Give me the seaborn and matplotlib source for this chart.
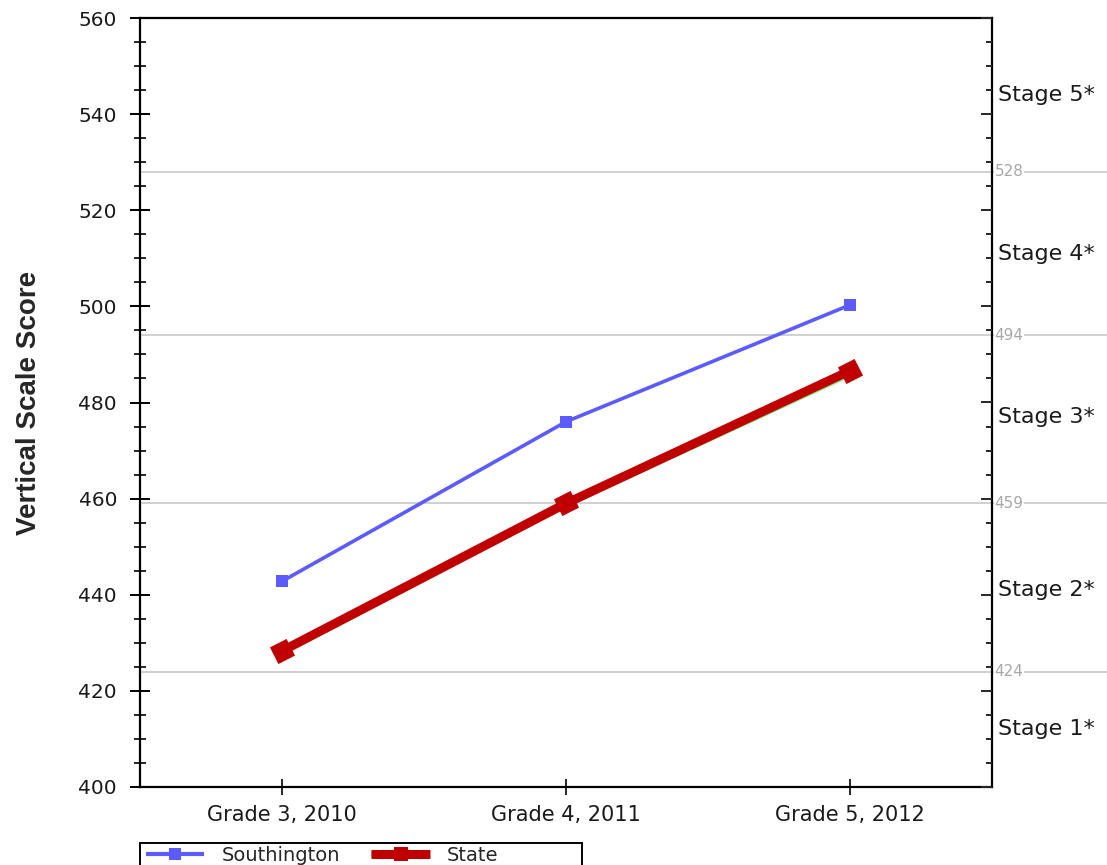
import pandas as pd
import matplotlib.pyplot as plt
import seaborn as sns
from matplotlib.ticker import MultipleLocator
from matplotlib.lines import Line2D
from matplotlib.patches import Rectangle

sns.set_theme(style="ticks")
plt.rcParams['font.family'] = ['DejaVu Sans']

grades = ['Grade 3, 2010', 'Grade 4, 2011', 'Grade 5, 2012']
southington = [442.8, 476.0, 500.3]
state = [428.3, 459.0, 486.6]
state_under = [427.8, 458.6, 485.8]

cut_scores = [424, 459, 494, 528]
stage_labels = ['Stage 1*', 'Stage 2*', 'Stage 3*', 'Stage 4*', 'Stage 5*']
stage_y = [412, 441, 477, 511, 544]

df = pd.DataFrame({'grade': grades * 3,
                   'score': southington + state_under + state,
                   'series': ['Southington'] * 3 + ['State_under'] * 3 + ['State'] * 3})

BLUE = '#5b5bff'
RED = '#c00000'
GREEN = '#7cf08a'

fig = plt.figure(figsize=(11.07, 8.65), dpi=100)
ax = fig.add_axes([140 / 1107, 78 / 865, 852 / 1107, 769 / 865])

for c in cut_scores:
    ax.axhline(c, xmin=0, xmax=(1107 - 140) / 852, color='#c8c8c8', lw=1.2,
               clip_on=False, zorder=1)
    ax.text(1.003, c, str(c), transform=ax.get_yaxis_transform(), ha='left', va='center',
            fontsize=11, color='#a8a8a8', zorder=3,
            bbox=dict(facecolor='white', edgecolor='none', pad=0.3))

sns.lineplot(data=df[df.series == 'Southington'], x='grade', y='score', ax=ax,
             color=BLUE, lw=2.6, marker='s', markersize=8, markeredgewidth=0,
             zorder=4, legend=False, sort=False)
sns.lineplot(data=df[df.series == 'State_under'], x='grade', y='score', ax=ax,
             color=GREEN, lw=3.5, zorder=4, legend=False, sort=False)
sns.lineplot(data=df[df.series == 'State'], x='grade', y='score', ax=ax,
             color=RED, lw=6.5, marker=(4, 0, 72), markersize=19,
             markeredgewidth=0, zorder=5, legend=False, sort=False)

ax.set_xlim(-0.5, 2.5)
ax.set_ylim(400, 560)
ax.yaxis.set_major_locator(MultipleLocator(20))
ax.yaxis.set_minor_locator(MultipleLocator(5))
ax.tick_params(axis='y', which='major', direction='inout', length=15, width=1.4,
               labelsize=14.5, pad=9, colors='black', labelcolor='#1a1a1a')
ax.tick_params(axis='y', which='minor', direction='inout', length=8.5, width=1.4)
ax.tick_params(axis='x', direction='inout', length=11.5, width=1.4, labelsize=15,
               labelcolor='#1a1a1a', pad=7)
for s in ax.spines.values():
    s.set_color('black')
    s.set_linewidth(1.6)

# right-hand axis: inward ticks only
axr = ax.twinx()
axr.set_ylim(400, 560)
axr.yaxis.set_major_locator(MultipleLocator(20))
axr.yaxis.set_minor_locator(MultipleLocator(5))
axr.tick_params(axis='y', which='major', direction='in', length=8, width=1.4,
                labelright=False)
axr.tick_params(axis='y', which='minor', direction='in', length=4, width=1.4)
for s in axr.spines.values():
    s.set_visible(False)

for lab, y in zip(stage_labels, stage_y):
    ax.text(1.007, y, lab, transform=ax.get_yaxis_transform(), ha='left', va='center',
            fontsize=16, color='#1a1a1a')

ax.set_xlabel('')
ax.set_ylabel('Vertical Scale Score', fontsize=20, fontweight='bold',
              family=['Liberation Sans', 'DejaVu Sans'])
ax.yaxis.set_label_coords((42 - 140) / 852, 0.5)

h_south = Line2D([], [], color=BLUE, lw=3, marker='s', markersize=9, markeredgewidth=0,
                 solid_capstyle='butt')
h_green = Line2D([], [], color=GREEN, lw=4, marker='^', markersize=8, markeredgewidth=0,
                 solid_capstyle='butt')
h_red = Line2D([], [], color=RED, lw=6.5, marker='s', markersize=10, markeredgewidth=0,
               solid_capstyle='butt')
leg = ax.legend([h_south, (h_green, h_red)], ['Southington', 'State'], ncol=2,
                loc='upper left', bbox_to_anchor=(143 / 1107, 22 / 865),
                bbox_transform=fig.transFigure, frameon=False, fontsize=14,
                handlelength=3, borderaxespad=0, borderpad=0.15, columnspacing=1.6,
                handletextpad=0.9)
fig.patches.append(Rectangle((140 / 1107, -0.05), (582 - 140) / 1107, 0.05 + 22 / 865,
                             transform=fig.transFigure, fill=False, edgecolor='black',
                             lw=1.4, zorder=10))

fig.savefig('out.png', dpi=100)
